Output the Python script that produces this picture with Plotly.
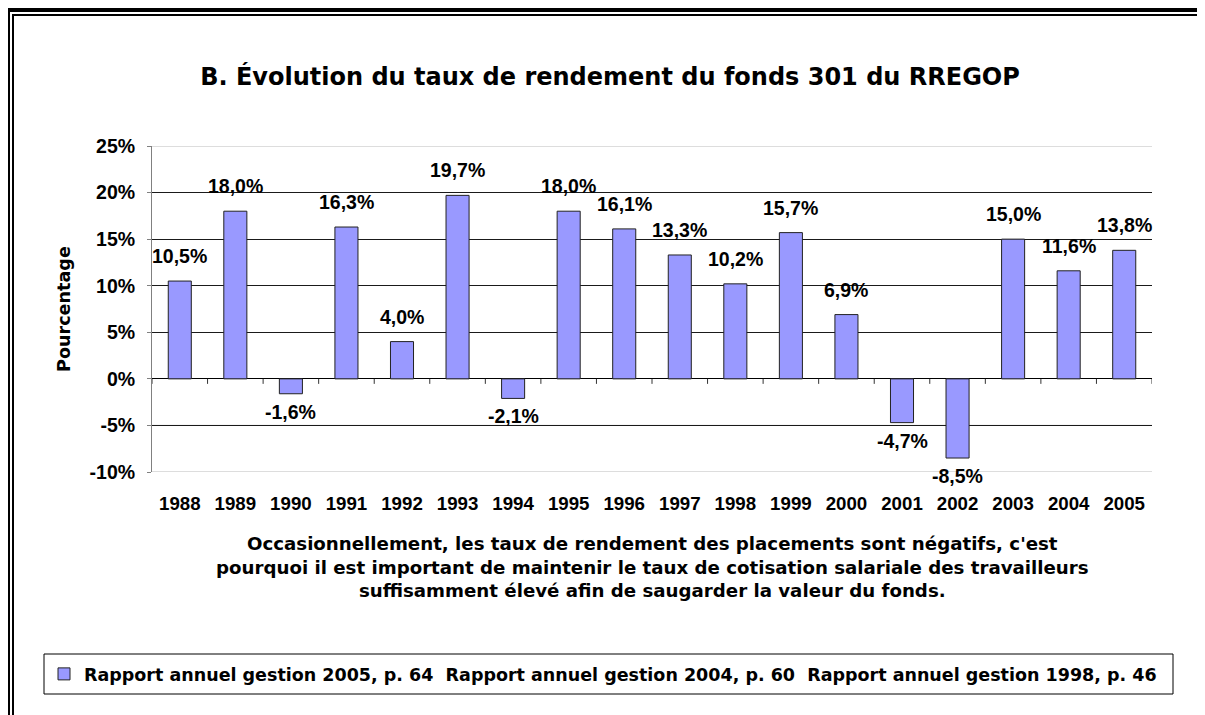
import plotly.graph_objects as go

# Données (taux de rendement annuel, en %)
annees = ["1988", "1989", "1990", "1991", "1992", "1993", "1994", "1995", "1996",
          "1997", "1998", "1999", "2000", "2001", "2002", "2003", "2004", "2005"]
rendements = [10.5, 18.0, -1.6, 16.3, 4.0, 19.7, -2.1, 18.0, 16.1,
              13.3, 10.2, 15.7, 6.9, -4.7, -8.5, 15.0, 11.6, 13.8]
graduations_y = [-10, -5, 0, 5, 10, 15, 20, 25]
etiquettes_y = ["-10%", "-5%", "0%", "5%", "10%", "15%", "20%", "25%"]

nom_serie = ("Rapport annuel gestion 2005, p. 64\u00a0 Rapport annuel gestion 2004, p. 60"
             "\u00a0 Rapport annuel gestion 1998, p. 46")
titre = "B. Évolution du taux de rendement du fonds 301 du RREGOP"
sous_titre = ("Occasionnellement, les taux de rendement des placements sont négatifs, c'est<br>"
              "pourquoi il est important de maintenir le taux de cotisation salariale des travailleurs<br>"
              "suffisamment élevé afin de saugarder la valeur du fonds.")

# la page ajoute une marge de 8 px autour du graphique
OFF = 8
W, H = 1205 - OFF, 715 - OFF
ML, MR, MT, MB = 152 - OFF, 53, 146 - OFF, 243
PW, PH = W - ML - MR, H - MT - MB

NUM = "Liberation Sans, Arial, sans-serif"
TXT = "DejaVu Sans, Verdana, sans-serif"


def px_x(px):
    # position en pixels de la page -> fraction du papier
    return (px - OFF - ML) / PW


def px_y(py):
    return (H - MB - (py - OFF)) / PH


fig = go.Figure()
fig.add_trace(go.Bar(
    x=annees, y=rendements, name=nom_serie,
    marker=dict(color="#9999FF", line=dict(color="#222222", width=1)),
    showlegend=True,
))

# étiquettes de données
for i, v in enumerate(rendements):
    fig.add_annotation(
        x=i, y=v, xref="x", yref="y",
        text=f"{v:.1f}".replace(".", ",") + "%",
        showarrow=False, yanchor="middle",
        yshift=25 if v >= 0 else -18,
        font=dict(family=NUM, size=19.5, color="black", weight="bold"),
    )

# petites graduations de l'axe des catégories (sur la ligne du 0 %)
for i in range(len(annees) + 1):
    fig.add_shape(type="line", xref="x", yref="y", ysizemode="pixel", yanchor=0,
                  x0=i - 0.5, x1=i - 0.5, y0=0, y1=-5,
                  line=dict(color="#333333", width=1))

# lignes de quadrillage extrêmes plus claires
for g in graduations_y:
    if g in (graduations_y[0], graduations_y[-1]):
        col, lw = "#dddddd", 2
    elif g == -5:
        col, lw = "#808080", 1
    else:
        continue
    fig.add_shape(type="line", xref="paper", yref="y", x0=0, x1=1, y0=g, y1=g,
                  layer="between", line=dict(color=col, width=lw))

# cadre double (haut et gauche)
fig.add_shape(type="line", xref="paper", yref="paper", x0=px_x(6), x1=px_x(1215),
              y0=px_y(10), y1=px_y(10), line=dict(color="black", width=4))
fig.add_shape(type="line", xref="paper", yref="paper", x0=px_x(12), x1=px_x(1215),
              y0=px_y(15), y1=px_y(15), line=dict(color="black", width=2))
fig.add_shape(type="line", xref="paper", yref="paper", x0=px_x(8), x1=px_x(8),
              y0=px_y(8), y1=px_y(725), line=dict(color="black", width=4))
fig.add_shape(type="line", xref="paper", yref="paper", x0=px_x(13), x1=px_x(13),
              y0=px_y(14), y1=px_y(725), line=dict(color="black", width=2))

# cadre de la légende
fig.add_shape(type="rect", xref="paper", yref="paper", x0=px_x(44), x1=px_x(1173),
              y0=px_y(654), y1=px_y(694), line=dict(color="black", width=1))

# texte explicatif sous l'axe
fig.add_annotation(
    x=0.5, y=px_y(567), xref="paper", yref="paper", text=sous_titre,
    showarrow=False, xanchor="center", yanchor="middle", align="center",
    font=dict(family=TXT, size=18.2, color="black", weight="bold"),
)

# titre de l'axe des y
fig.add_annotation(
    x=px_x(64), y=0.5, xref="paper", yref="paper", text="Pourcentage",
    textangle=-90, showarrow=False, xanchor="center", yanchor="middle",
    font=dict(family=TXT, size=17.6, color="black", weight="bold"),
)

fig.update_layout(
    width=W, height=H,
    margin=dict(l=ML, r=MR, t=MT, b=MB, autoexpand=False),
    paper_bgcolor="white", plot_bgcolor="white",
    bargap=0.585,
    title=dict(text=titre, xref="container", yref="container",
               x=(610 - OFF) / W, y=1 - (77 - OFF) / H, xanchor="center", yanchor="middle",
               font=dict(family=TXT, size=24, color="black", weight="bold")),
    xaxis=dict(type="category", range=[-0.5, len(annees) - 0.5],
               showgrid=False, showline=False, zeroline=False,
               ticks="", ticklabelstandoff=18,
               tickfont=dict(family=NUM, size=18.7, color="black", weight="bold")),
    yaxis=dict(range=[-10, 25], tickmode="array", tickvals=graduations_y, ticktext=etiquettes_y,
               showgrid=True, gridcolor="#1a1a1a", gridwidth=1,
               zeroline=True, zerolinecolor="black", zerolinewidth=1,
               showline=True, linecolor="#808080", linewidth=1,
               ticks="outside", ticklen=4, tickcolor="#808080", ticklabelstandoff=8,
               tickfont=dict(family=NUM, size=19.5, color="black", weight="bold")),
    legend=dict(orientation="h", xref="paper", yref="paper",
                x=px_x(44), xanchor="left", y=px_y(674), yanchor="middle",
                bgcolor="rgba(0,0,0,0)", borderwidth=0,
                font=dict(family=TXT, size=17.5, color="black", weight="bold")),
)

fig.write_html("out.html")
